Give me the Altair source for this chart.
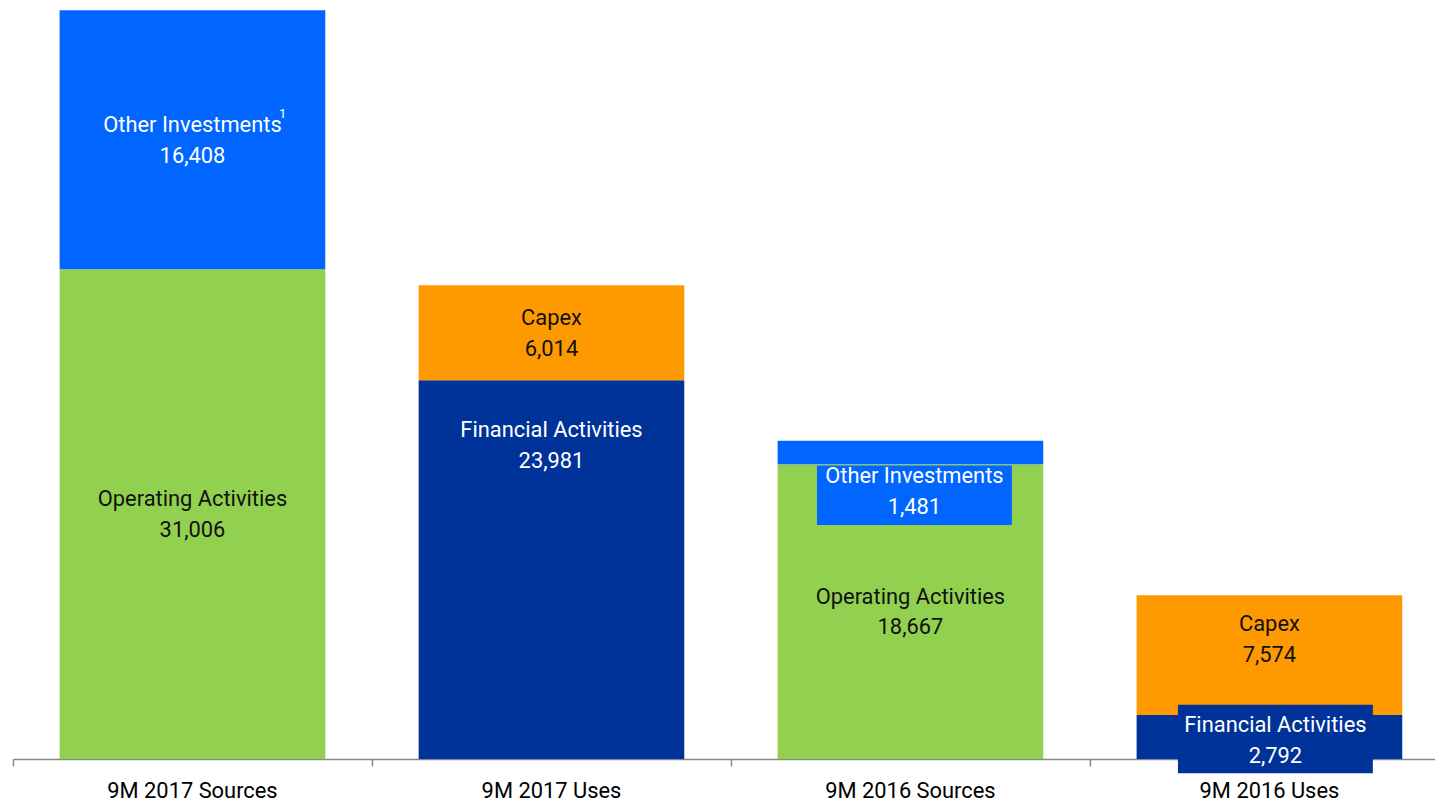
import altair as alt
import pandas as pd

categories = ["9M 2017 Sources", "9M 2017 Uses", "9M 2016 Sources", "9M 2016 Uses"]
bottom_names = ["Operating Activities", "Financial Activities", "Operating Activities", "Financial Activities"]
bottom_values = [31006, 23981, 18667, 2792]
top_names = ["Other Investments", "Capex", "Other Investments", "Capex"]
top_values = [16408, 6014, 1481, 7574]

series = ["Operating Activities", "Other Investments", "Capex", "Financial Activities"]
series_colors = ["#92D050", "#0066FF", "#FF9900", "#003399"]
text_colors = {"Operating Activities": "#111111", "Capex": "#111111",
               "Other Investments": "#FFFFFF", "Financial Activities": "#FFFFFF"}

rows = []
for i, c in enumerate(categories):
    b, t = bottom_values[i], top_values[i]
    rows.append(dict(cat=c, name=bottom_names[i], value=b, y0=0, y1=b))
    rows.append(dict(cat=c, name=top_names[i], value=t, y0=b, y1=b + t))
df = pd.DataFrame(rows)
df["mid"] = (df["y0"] + df["y1"]) / 2
df["label"] = df["name"] + "\n" + df["value"].map(lambda v: f"{v:,}")

FONT = "Roboto"
FS = 22
ymax = df["y1"].max()

xscale = alt.Scale(domain=categories, paddingInner=0, paddingOuter=0, range=[0, 1444])
xenc = alt.X("cat:N", sort=categories, title=None, scale=xscale,
             axis=alt.Axis(bandPosition=0, labelAngle=0, labelFont=FONT, labelFontSize=FS,
                           labelColor="#000000", labelPadding=15, tickSize=7,
                           tickColor="#888888", domainColor="#888888", domainWidth=1.5,
                           tickWidth=1.5, grid=False))
yscale = alt.Scale(domain=[0, ymax], nice=False, zero=True)

base = alt.Chart(df)

bars = base.mark_bar(width={"band": 0.74}).encode(
    x=xenc,
    y=alt.Y("y0:Q", scale=yscale, axis=None, title=None),
    y2="y1:Q",
    color=alt.Color("name:N", scale=alt.Scale(domain=series, range=series_colors), legend=None),
)

# label offsets (pixels) for labels not centered in their segment: (dx, dy)
label_off = {("9M 2017 Uses", "Financial Activities"): (0, -125),
             ("9M 2016 Uses", "Capex"): (0, -16),
             ("9M 2016 Sources", "Other Investments"): (4, 39),
             ("9M 2016 Uses", "Financial Activities"): (6, 3)}
# boxes behind small-segment labels: (width, height, dx, dy)
box_specs = {("9M 2016 Sources", "Other Investments"): (196, 60, 4, 43),
             ("9M 2016 Uses", "Financial Activities"): (196, 69, 6, 2)}

layers = [bars]
for (cat, name), (bw, bh, bdx, bdy) in box_specs.items():
    col = series_colors[series.index(name)]
    ratio = bh / bw
    shape = f"M-1,-{ratio}L1,-{ratio}L1,{ratio}L-1,{ratio}Z"
    layers.append(
        base.transform_filter((alt.datum.cat == cat) & (alt.datum.name == name))
        .mark_point(shape=shape, size=bw * bw, filled=True, opacity=1, color=col,
                    strokeWidth=0, xOffset=bdx, yOffset=bdy)
        .encode(x=alt.X("cat:N", sort=categories, scale=xscale), y=alt.Y("mid:Q", scale=yscale))
    )

for _, r in df.iterrows():
    dx, dy = label_off.get((r["cat"], r["name"]), (0, 0))
    layers.append(
        base.transform_filter((alt.datum.cat == r["cat"]) & (alt.datum.name == r["name"]))
        .mark_text(font=FONT, fontSize=FS, lineBreak="\n", lineHeight=31,
                   color=text_colors[r["name"]], dx=dx, dy=dy - 15, baseline="middle", align="center")
        .encode(x=alt.X("cat:N", sort=categories, scale=xscale), y=alt.Y("mid:Q", scale=yscale),
                text="label:N")
    )

# footnote superscript
layers.append(
    base.transform_filter((alt.datum.cat == "9M 2017 Sources") & (alt.datum.name == "Other Investments"))
    .mark_text(font=FONT, fontSize=13, color="#FFFFFF", align="left", baseline="middle",
               dx=87, dy=-26)
    .encode(x=alt.X("cat:N", sort=categories, scale=xscale), y=alt.Y("mid:Q", scale=yscale),
            text=alt.value("1"))
)

chart = alt.layer(*layers).properties(
    width=1430, height=753,
    padding={"left": 5, "top": 0, "right": 0, "bottom": 46},
    autosize=alt.AutoSizeParams(type="none"),
).configure(background="#FFFFFF").configure_view(stroke=None)

chart.save("out.html", embed_options={"renderer": "svg", "actions": False})
